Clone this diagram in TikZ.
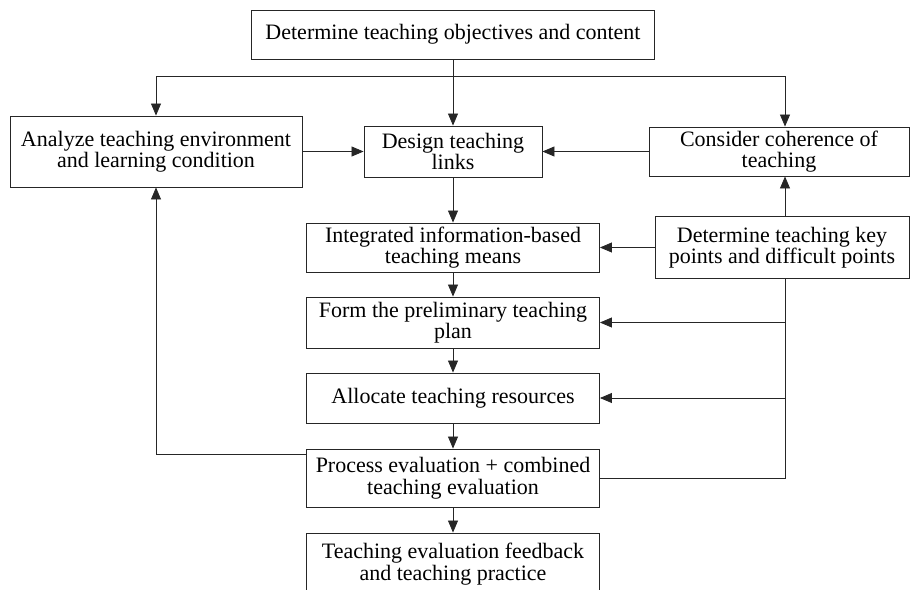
\documentclass[tikz,border=0pt]{standalone}
\usepackage{fontspec}
\setmainfont{Liberation Serif}
\usetikzlibrary{arrows.meta}
\begin{document}
\begin{tikzpicture}[x=1pt,y=-1pt,
  box/.style={draw=black!85, line width=0.9pt, rectangle, inner sep=0pt, align=center, font=\fontsize{22}{21.5}\selectfont},
  conn/.style={draw=black!85, line width=0.8pt},
  arr/.style={conn, -{Triangle[length=12pt,width=10pt]}}]
\useasboundingbox (0,0) rectangle (910,589);
\clip (0,0) rectangle (910,589);

\node[box, minimum width=403pt, minimum height=49pt] (top) at (453,34.5) {Determine teaching objectives and content};
\node[box, minimum width=292pt, minimum height=71pt] (analyze) at (156,151.5) {Analyze teaching environment\\and learning condition};
\node[box, minimum width=178pt, minimum height=51pt] (design) at (453,151.5) {Design teaching\\links};
\node[box, minimum width=260pt, minimum height=49pt] (consider) at (779,151.5) {Consider coherence of\\teaching};
\node[box, minimum width=293pt, minimum height=49pt] (integrated) at (453,247.5) {Integrated information-based\\teaching means};
\node[box, minimum width=254pt, minimum height=62pt] (key) at (782,247.5) {Determine teaching key\\points and difficult points};
\node[box, minimum width=293pt, minimum height=51pt] (form) at (453,322.5) {Form the preliminary teaching\\plan};
\node[box, minimum width=293pt, minimum height=50pt] (allocate) at (453,398) {Allocate teaching resources};
\node[box, minimum width=293pt, minimum height=58pt] (process) at (453,478) {Process evaluation + combined\\teaching evaluation};
\node[box, minimum width=293pt, minimum height=62pt] (feedback) at (453,564) {Teaching evaluation feedback\\and teaching practice};

\coordinate (j) at (453,76);
\coordinate (sp) at (785,0);
\coordinate (lb) at (156,454);

\draw[conn] (top.south) -- (j);
\draw[arr] (j) -| (analyze.north);
\draw[arr] (j) -- (design.north);
\draw[arr] (j) -| (consider.north -| sp);
\draw[arr] (analyze.east) -- (design.west);
\draw[arr] (consider.west) -- (design.east);
\draw[arr] (design.south) -- (integrated.north);
\draw[arr] (key.west) -- (integrated.east);
\draw[arr] (key.north -| sp) -- (consider.south -| sp);
\draw[conn] (key.south -| sp) |- (process.east);
\draw[arr] (sp |- form.east) -- (form.east);
\draw[arr] (sp |- allocate.east) -- (allocate.east);
\draw[arr] (process.west |- lb) -| (analyze.south);
\draw[arr] (integrated.south) -- (form.north);
\draw[arr] (form.south) -- (allocate.north);
\draw[arr] (allocate.south) -- (process.north);
\draw[arr] (process.south) -- (feedback.north);
\end{tikzpicture}
\end{document}
